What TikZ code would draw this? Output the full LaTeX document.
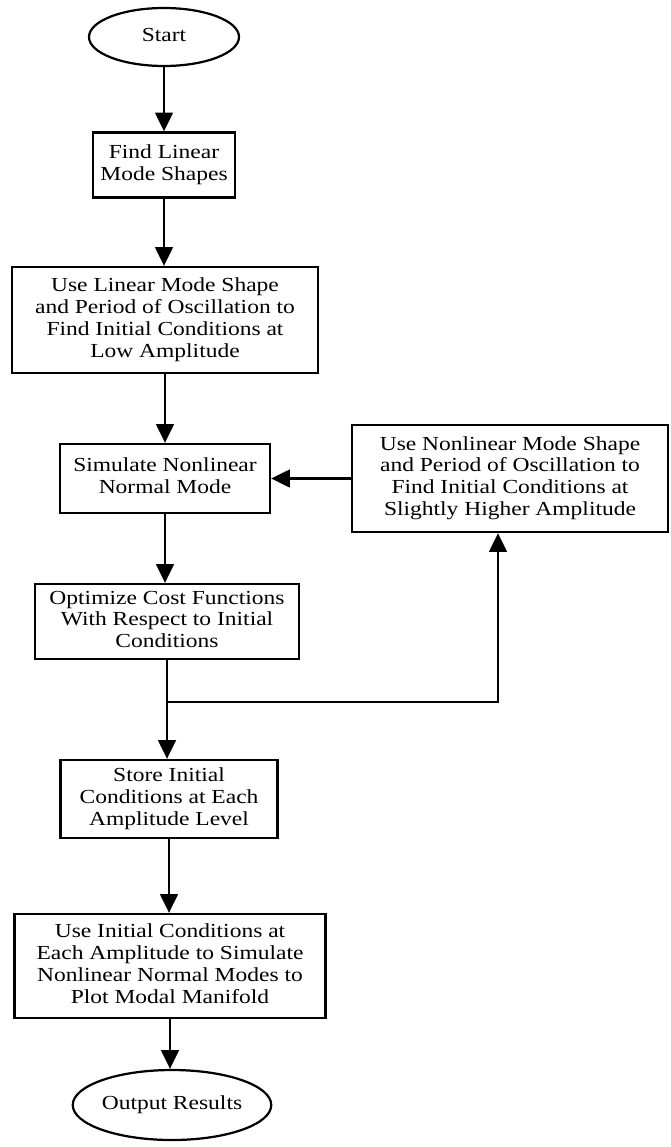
\documentclass[tikz,border=0pt]{standalone}
\usepackage{fontspec}
\usepackage{graphicx}
\setmainfont{Liberation Serif}
\usetikzlibrary{arrows.meta,shapes.geometric}
\newdimen\unitpx
\unitpx=0.03cm
\newcommand{\wt}[1]{\scalebox{1.18}[1]{\begin{tabular}{@{}c@{}}#1\end{tabular}}}
\begin{document}
\begin{tikzpicture}[x=0.03cm,y=-0.03cm,
  every node/.style={font=\fontsize{17pt}{18.6pt}\selectfont, align=center, inner sep=1pt},
  procbox/.style={draw, line width=1.9pt, rectangle},
  term/.style={draw, line width=1.9pt, ellipse, inner sep=0pt},
  arr/.style={line width=2.3pt, -{Triangle[length=16pt,width=15pt]}},
  ln/.style={line width=2.3pt}]
\useasboundingbox (0,0) rectangle (670,1147);
\node[term, minimum width=150\unitpx, minimum height=58\unitpx] (start) at (164,37) {\wt{Start}};
\node[procbox, minimum width=142\unitpx, minimum height=65\unitpx] (b1) at (164,165) {\wt{Find Linear\\Mode Shapes}};
\node[procbox, minimum width=306\unitpx, minimum height=106\unitpx] (b2) at (165,320) {\wt{Use Linear Mode Shape\\and Period of Oscillation to\\Find Initial Conditions at\\Low Amplitude}};
\node[procbox, minimum width=210\unitpx, minimum height=69\unitpx] (b3) at (165,478.5) {\wt{Simulate Nonlinear\\Normal Mode}};
\node[procbox, minimum width=264\unitpx, minimum height=75\unitpx] (b4) at (167,621.5) {\wt{Optimize Cost Functions\\With Respect to Initial\\Conditions}};
\node[procbox, minimum width=316\unitpx, minimum height=107\unitpx] (rb) at (510,478.5) {\wt{Use Nonlinear Mode Shape\\and Period of Oscillation to\\Find Initial Conditions at\\Slightly Higher Amplitude}};
\node[procbox, minimum width=217\unitpx, minimum height=78\unitpx] (b5) at (169,799) {\wt{Store Initial\\Conditions at Each\\Amplitude Level}};
\node[procbox, minimum width=311\unitpx, minimum height=104\unitpx] (b6) at (170,966) {\wt{Use Initial Conditions at\\Each Amplitude to Simulate\\Nonlinear Normal Modes to\\Plot Modal Manifold}};
\node[term, minimum width=188\unitpx, minimum height=70\unitpx] (out) at (172,1105) {\wt{Output Results}};
\coordinate (j) at (167,702);
\coordinate (u) at (498,702);
\draw[arr] (start.south) -- (start.south |- b1.north);
\draw[arr] (b1.south) -- (b1.south |- b2.north);
\draw[arr] (b2.south) -- (b2.south |- b3.north);
\draw[arr] (b3.south) -- (b3.south |- b4.north);
\draw[arr] (b4.south) -- (b4.south |- b5.north);
\draw[arr] (b5.south) -- (b5.south |- b6.north);
\draw[arr] (b6.south) -- (b6.south |- out.north);
\draw[arr] (rb.west) -- (rb.west -| b3.east);
\draw[arr] (j) -- (u) -- (u |- rb.south);
\end{tikzpicture}
\end{document}
